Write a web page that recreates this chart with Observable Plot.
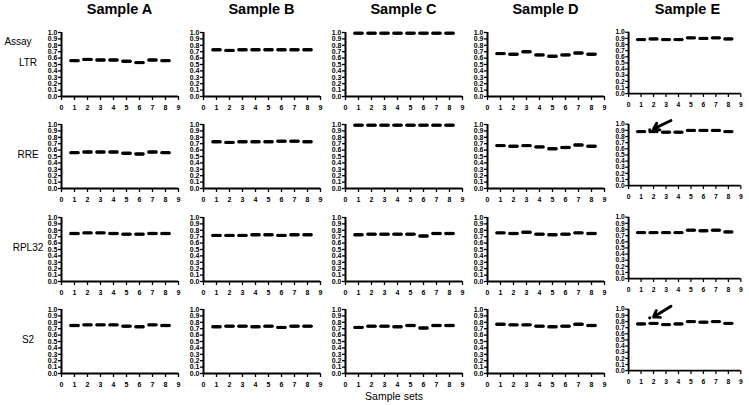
<!DOCTYPE html>
<html><head><meta charset="utf-8">
<script src="https://cdn.jsdelivr.net/npm/d3@7"></script>
<script src="https://cdn.jsdelivr.net/npm/@observablehq/plot@0.6"></script>
<style>
body{margin:0;background:#fff;font-family:"Liberation Sans",Arial,sans-serif;color:#000;}
#fig{position:relative;width:749px;height:405px;overflow:hidden;background:#fff;}
.ct{position:absolute;font-weight:bold;font-size:14.5px;top:1px;text-align:center;width:140px;line-height:16px;}
.rl{position:absolute;font-size:10px;line-height:12px;width:56px;text-align:center;}
.panel{position:absolute;}
.panel svg{overflow:visible;}
</style></head><body><div id="fig"></div>
<script>
const samples = ["Sample A","Sample B","Sample C","Sample D","Sample E"];
const assays = ["LTR","RRE","RPL32","S2"];
const sampleSets = [1,2,3,4,5,6,7,8];
const xTicks = [0,1,2,3,4,5,6,7,8,9];
const yTicks = [0,0.1,0.2,0.3,0.4,0.5,0.6,0.7,0.8,0.9,1.0];
const xLabel = "Sample sets";
const rowHeader = "Assay";

// values per assay: one row per sample (A..E), one value per sample set 1..8
const ltr = [
  [0.56,0.58,0.57,0.57,0.55,0.53,0.57,0.56],
  [0.73,0.72,0.73,0.73,0.73,0.73,0.73,0.73],
  [0.99,0.99,0.99,0.99,0.99,0.99,0.99,0.99],
  [0.67,0.66,0.70,0.65,0.63,0.65,0.68,0.66],
  [0.88,0.89,0.88,0.88,0.91,0.90,0.91,0.89]
];
const rre = [
  [0.56,0.57,0.57,0.57,0.55,0.54,0.57,0.56],
  [0.73,0.72,0.73,0.73,0.73,0.74,0.74,0.73],
  [0.99,0.99,0.99,0.99,0.99,0.99,0.99,0.99],
  [0.67,0.66,0.67,0.65,0.62,0.64,0.68,0.66],
  [0.88,0.88,0.87,0.87,0.90,0.90,0.90,0.88]
];
const rpl32 = [
  [0.75,0.76,0.76,0.75,0.74,0.74,0.75,0.75],
  [0.72,0.72,0.72,0.73,0.73,0.72,0.73,0.73],
  [0.73,0.74,0.74,0.74,0.74,0.71,0.75,0.75],
  [0.76,0.75,0.77,0.74,0.73,0.74,0.76,0.75],
  [0.75,0.75,0.75,0.75,0.79,0.78,0.79,0.76]
];
const s2 = [
  [0.75,0.76,0.76,0.76,0.74,0.73,0.76,0.75],
  [0.73,0.74,0.74,0.73,0.74,0.72,0.74,0.74],
  [0.72,0.74,0.74,0.73,0.75,0.71,0.75,0.75],
  [0.77,0.76,0.76,0.74,0.73,0.74,0.77,0.75],
  [0.76,0.77,0.75,0.76,0.80,0.79,0.80,0.77]
];
const assayValues = [ltr, rre, rpl32, s2];

// flagged outlying replicate (highlighted by an arrow)
const outlierSample = ["Sample E","Sample E"];
const outlierAssay = ["RRE","S2"];
const outlierSet = [1.7,1.7];
const outlierValue = [0.91,0.86];
const arrowFrom = [[3.4,1.06],[3.4,1.05]];
const arrowTo = [[2.0,0.925],[2.0,0.875]];

const fig = document.getElementById("fig");
const jitter = [-0.28,-0.19,-0.09,0,0.09,0.19,0.28];
const colStep = 142, rowStep = 92.3, left0 = 61, top0 = 32;
const mL = 22, mR = 9, mT = 6, mB = 22;

function addDiv(cls, text, x, y){
  const d = document.createElement("div");
  d.className = cls; d.textContent = text;
  d.style.left = x + "px"; d.style.top = y + "px";
  fig.appendChild(d); return d;
}

addDiv("rl", rowHeader, -10, 36);
assays.forEach((a, j) => addDiv("rl", a, 0, top0 + rowStep*j + 25));
const sl = addDiv("rl", xLabel, 0, 390);
sl.style.width = "120px"; sl.style.left = (394-60) + "px"; sl.style.fontSize = "10.5px";

samples.forEach((s, i) => {
  addDiv("ct", s, left0 + colStep*i + 58.5 - 70, 1);
  assays.forEach((a, j) => {
    const vals = assayValues[j][i];
    const pts = [];
    vals.forEach((v, k) => jitter.forEach(o => pts.push({x: sampleSets[k] + o, y: v})));
    const out = [], arr = [];
    outlierSample.forEach((os, q) => {
      if (os === s && outlierAssay[q] === a) {
        out.push({x: outlierSet[q], y: outlierValue[q]});
        arr.push({x1: arrowFrom[q][0], y1: arrowFrom[q][1], x2: arrowTo[q][0], y2: arrowTo[q][1]});
      }
    });
    const chart = Plot.plot({
      width: mL + 117 + mR, height: mT + 64 + mB,
      marginLeft: mL, marginRight: mR, marginTop: mT, marginBottom: mB,
      x: {domain: [0, 9], axis: null},
      y: {domain: [0, 1], axis: null},
      style: {fontFamily: "'Liberation Sans', Arial, sans-serif", fontSize: "7px", fontWeight: "bold", background: "transparent", overflow: "visible", color: "black"},
      marks: [
        Plot.axisY({ticks: yTicks, tickFormat: d3.format(".1f"), tickSize: 3, tickPadding: 1, strokeWidth: 1.3, fontSize: 7, fontWeight: "bold", fill: "black", stroke: "black"}),
        Plot.axisX({ticks: xTicks, tickFormat: d3.format("d"), tickSize: 4, tickPadding: 5, strokeWidth: 1.3, fontSize: 7, fontWeight: "bold", fill: "black", stroke: "black"}),
        Plot.ruleX([0], {strokeWidth: 2, stroke: "black"}),
        Plot.ruleY([0], {strokeWidth: 2, stroke: "black"}),
        Plot.dot(pts, {x: "x", y: "y", r: 1.7, fill: "black", stroke: "none"}),
        Plot.dot(out, {x: "x", y: "y", r: 1.7, fill: "black", stroke: "none"}),
        Plot.arrow(arr, {x1: "x1", y1: "y1", x2: "x2", y2: "y2", strokeWidth: 3, headLength: 8, headAngle: 70, stroke: "black"})
      ]
    });
    const wrap = document.createElement("div");
    wrap.className = "panel";
    wrap.style.left = (left0 + colStep*i - mL) + "px";
    wrap.style.top = (top0 + rowStep*j - mT) + "px";
    wrap.appendChild(chart);
    fig.appendChild(wrap);
  });
});
</script>
</body></html>
